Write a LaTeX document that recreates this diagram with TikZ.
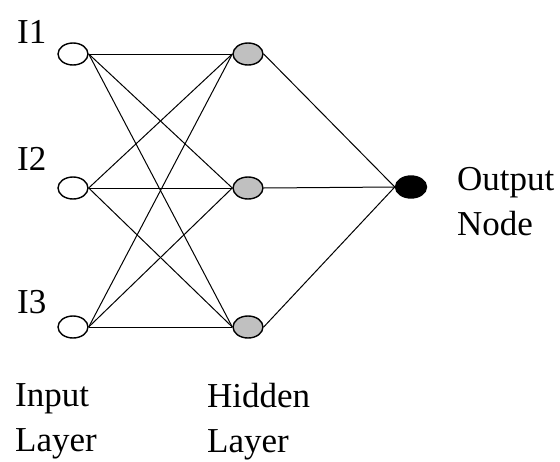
\documentclass[tikz,border=0pt]{standalone}
\usepackage{fontspec}
\setmainfont{Liberation Serif}
\usetikzlibrary{shapes.geometric}
\definecolor{hidgray}{RGB}{192,192,192}
\begin{document}
\begin{tikzpicture}[x=1pt,y=-1pt,
  neuron/.style={ellipse,draw=black,line width=1.4pt,minimum width=30pt,minimum height=22pt,inner sep=0pt},
  inputn/.style={neuron,fill=white},
  hiddenn/.style={neuron,fill=hidgray},
  outputn/.style={neuron,fill=black,minimum width=31pt},
  conn/.style={draw=black,line width=1pt},
  lab/.style={font=\fontsize{35}{45}\selectfont,inner sep=0pt,anchor=base west,align=left}]
\useasboundingbox (0,0) rectangle (560,461);
\node[inputn] (i1) at (73,54) {};
\node[inputn] (i2) at (73,188) {};
\node[inputn] (i3) at (73,327) {};
\node[hiddenn] (h1) at (248,54) {};
\node[hiddenn] (h2) at (248,188) {};
\node[hiddenn] (h3) at (248,327) {};
\node[outputn] (o) at (411,187) {};
\foreach \a in {1,2,3}{
  \foreach \b in {1,2,3}{
    \draw[conn] (i\a.east) -- (h\b.west);
  }
  \draw[conn] (h\a.east) -- (o.west);
}
\node[lab] (l1) at (17,43) {I1};
\node[lab] (l2) at (17,170) {I2};
\node[lab] (l3) at (17,313) {I3};
\node[lab] (lo) at (457,235) {Output\\Node};
\node[lab] (li) at (15,451) {Input\\Layer};
\node[lab] (lh) at (207,452) {Hidden\\Layer};
\end{tikzpicture}
\end{document}
